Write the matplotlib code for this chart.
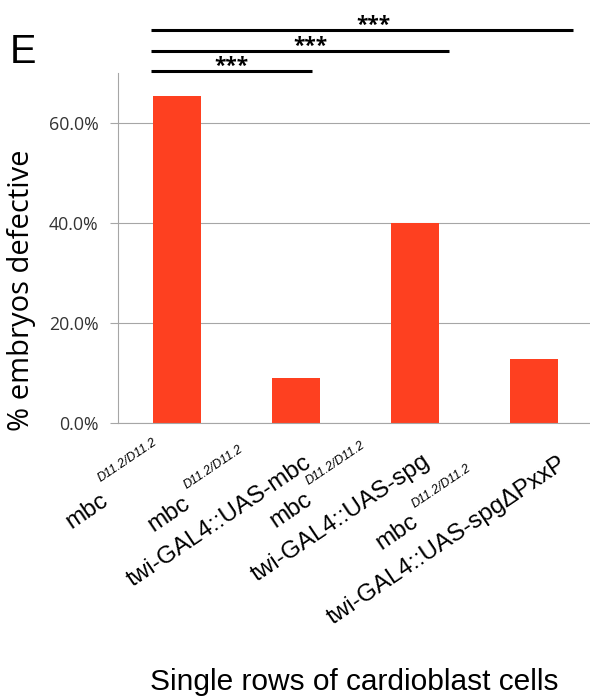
import numpy as np
import matplotlib.pyplot as plt
from matplotlib.transforms import ScaledTranslation
from matplotlib.font_manager import FontProperties

# data
genotype_top = ['mbc', 'mbc', 'mbc', 'mbc']
allele = 'D11.2/D11.2'
genotype_bottom = ['', 'twi-GAL4::UAS-mbc', 'twi-GAL4::UAS-spg', 'twi-GAL4::UAS-spg\u0394PxxP']
pct_defective = [65.4, 9.0, 40.0, 12.8]
yticks = [0, 20, 40, 60]

# significance bars: all compared against the first genotype
sig_start = [-0.22, -0.22, -0.22]
sig_end = [1.13, 2.28, 3.33]
sig_y = [70.5, 74.5, 78.7]
sig_star_x = [0.45, 1.12, 1.65]
sig_text = ['***', '***', '***']

bar_color = '#fe4020'
grid_color = '#a6a6a6'
DPI = 100

fig = plt.figure(figsize=(5.9, 7), dpi=DPI)
ax = fig.add_axes([118 / 590, (700 - 423.4) / 700, 472 / 590, 350.1 / 700])

x = np.arange(len(pct_defective))
ax.bar(x, pct_defective, width=0.404, color=bar_color, zorder=2)

ax.set_xlim(-0.5, 3.47)
ax.set_ylim(0, 70)
ax.set_yticks(yticks)
ax.set_yticklabels([f'{v:.1f}%' for v in yticks], family='Open Sans', fontsize=12.8, color='#333333')
ax.tick_params(axis='y', length=6, width=0.8, color=grid_color, pad=8)
ax.set_xticks([])
ax.yaxis.grid(True, color=grid_color, lw=0.8)
ax.set_axisbelow(True)
for side in ['top', 'right']:
    ax.spines[side].set_visible(False)
for side in ['left', 'bottom']:
    ax.spines[side].set_color(grid_color)
    ax.spines[side].set_linewidth(0.8)

# significance lines and stars
for s, e, y, sx, t in zip(sig_start, sig_end, sig_y, sig_star_x, sig_text):
    ax.plot([s, e], [y, y], color='black', lw=2.2, clip_on=False, solid_capstyle='butt')
    ax.text(sx, y - 0.3, t, ha='center', va='baseline', fontsize=15, fontweight='bold',
            family='Open Sans', clip_on=False)

# rotated category labels (drawn piece by piece so the superscript can be small)
angle = 34
u = np.array([np.cos(np.radians(angle)), np.sin(np.radians(angle))])
n = np.array([-u[1], u[0]])
fs_main = 17.5
fs_sup = 9
fp_main = FontProperties(family='Liberation Sans', size=fs_main)
fp_sup = FontProperties(family='Liberation Sans', size=fs_sup, style='italic')
renderer = fig.canvas.get_renderer()


def width_px(s, fp):
    w, h, d = renderer.get_text_width_height_descent(s, fp, ismath=False)
    return w


label_drop = [106, 164, 158, 201]
line_gap = 34
sup_gap = 5
sup_rise = [23, 17, 17, 17]
base = ax.get_xaxis_transform()


def put(xi, off, s, fp):
    tr = base + ScaledTranslation(off[0] / DPI, off[1] / DPI, fig.dpi_scale_trans)
    ax.text(xi, 0, s, transform=tr, fontproperties=fp, rotation=angle,
            rotation_mode='anchor', ha='left', va='baseline', clip_on=False)


for i, (top, bottom) in enumerate(zip(genotype_top, genotype_bottom)):
    start = np.array([-label_drop[i], -label_drop[i]], dtype=float)
    w_top = width_px(top, fp_main) + sup_gap + width_px(allele, fp_sup)
    if bottom:
        put(i, start, bottom, fp_main)
        w_bot = width_px(bottom, fp_main)
        top_start = start + (w_bot - w_top) / 2 * u + line_gap * n
    else:
        top_start = start
    put(i, top_start, top, fp_main)
    sup_start = top_start + (width_px(top, fp_main) + sup_gap) * u + sup_rise[i] * n
    put(i, sup_start, allele, fp_sup)

fig.text(22 / 590, 1 - 290 / 700, '% embryos defective', rotation=90, ha='center', va='center',
         fontsize=21, family='Open Sans')
fig.text(354 / 590, 1 - 690 / 700, 'Single rows of cardioblast cells', ha='center', va='baseline',
         fontsize=21.5, family='Liberation Sans')
fig.text(10 / 590, 1 - 63.3 / 700, 'E', ha='left', va='baseline', fontsize=28.5, family='Liberation Sans')

fig.savefig('out.png', dpi=DPI)
